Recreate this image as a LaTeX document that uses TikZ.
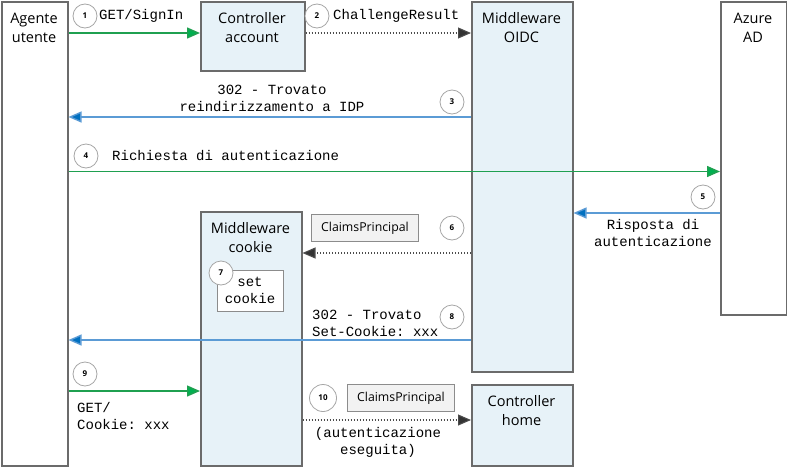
\documentclass[tikz,border=0pt]{standalone}
\usepackage{fontspec}
\setmainfont{Open Sans}
\setmonofont{Liberation Mono}
\usetikzlibrary{arrows.meta}
\definecolor{boxfill}{HTML}{E7F2F8}
\definecolor{boxline}{HTML}{6B6B6B}
\definecolor{grline}{HTML}{1FA050}
\definecolor{grhead}{HTML}{00B050}
\definecolor{blline}{HTML}{5B9BD5}
\definecolor{blhead}{HTML}{0070C0}
\definecolor{cpfill}{HTML}{F2F2F2}
\tikzset{
  actor/.style={draw=boxline, line width=1.5pt, fill=white, anchor=north west, inner sep=0pt},
  comp/.style={draw=boxline, line width=1.5pt, fill=boxfill, anchor=north west, inner sep=0pt},
  boxtext/.style={font=\fontsize{14.5}{19}\selectfont, align=center, inner sep=0pt},
  mono/.style={font=\ttfamily\fontsize{14}{17}\selectfont, inner sep=0pt},
  num/.style={circle, draw=black!35, line width=0.8pt, fill=white, minimum size=24pt, inner sep=0pt, font=\fontsize{8}{8}\selectfont\bfseries},
  cp/.style={draw=black!45, line width=1pt, fill=cpfill, anchor=north west, inner sep=0pt, font=\fontsize{12.3}{14}\selectfont},
  grarr/.style={draw=grline, line width=1.4pt, -{Triangle[length=13pt,width=11pt,fill=grhead]}},
  blarr/.style={draw=blline, line width=1.4pt, -{Triangle[length=13pt,width=11pt,fill=blhead]}},
  dotarr/.style={draw=black!70, line width=1.1pt, dash pattern=on 1pt off 2pt, -{Triangle[length=13pt,width=11pt,fill=black!80]}},
}
\begin{document}
\begin{tikzpicture}[x=1pt,y=-1pt]
\useasboundingbox (0,0) rectangle (787,466);
% lifeline boxes
\node[actor, minimum width=66pt, minimum height=464pt] (ua) at (1,1) {};
\node[comp, minimum width=104pt, minimum height=69pt] (ca) at (200,1) {};
\node[comp, minimum width=101pt, minimum height=370pt] (oidc) at (471,1) {};
\node[actor, minimum width=66pt, minimum height=313pt] (az) at (720,1) {};
\node[comp, minimum width=101pt, minimum height=254pt] (mc) at (200,211) {};
\node[comp, minimum width=101pt, minimum height=81pt] (ch) at (471,384) {};
% box labels
\node[boxtext] (uat) at (34,27.5) {Agente\\utente};
\node[boxtext] (cat) at (252,27.5) {Controller\\account};
\node[boxtext] (oidct) at (521.5,27.5) {Middleware\\OIDC};
\node[boxtext] (azt) at (753,27.5) {Azure\\AD};
\node[boxtext] (mct) at (250.5,237.5) {Middleware\\cookie};
\node[boxtext] (cht) at (521.5,410.5) {Controller\\home};
% small boxes
\node[cp, minimum width=107pt, minimum height=27pt] (cp6) at (311,214) {ClaimsPrincipal};
\node[cp, minimum width=107pt, minimum height=27pt] (cp10) at (347,384) {ClaimsPrincipal};
\node[draw=black!45, line width=1pt, fill=white, anchor=north west, minimum width=66pt, minimum height=41pt, inner sep=0pt] (sc) at (217,270) {};
\node[mono, align=center] (sct) at (250,290.5) {set\\cookie};
% arrows
\draw[grarr] (ua.east |- 0,33) -- (ca.west |- 0,33);
\draw[dotarr] (ca.east |- 0,33) -- (oidc.west |- 0,33);
\draw[blarr] (oidc.west |- 0,117) -- (ua.east |- 0,117);
\draw[grarr] (ua.east |- 0,171.5) -- (az.west |- 0,171.5);
\draw[blarr] (az.west |- 0,213) -- (oidc.east |- 0,213);
\draw[dotarr] (oidc.west |- 0,253) -- (mc.east |- 0,253);
\draw[blarr] (oidc.west |- 0,340) -- (ua.east |- 0,340);
\draw[grarr] (ua.east |- 0,391) -- (mc.west |- 0,391);
\draw[dotarr] (mc.east |- 0,420) -- (ch.west |- 0,420);
% arrow labels
\node[mono, anchor=west] (l1) at (99,16) {GET/SignIn};
\node[mono, anchor=west] (l2) at (333,16) {ChallengeResult};
\node[mono, align=center] (l3) at (272,98.5) {302 - Trovato\\reindirizzamento a IDP};
\node[mono, anchor=west] (l4) at (112,156) {Richiesta di autenticazione};
\node[mono, align=center] (l5) at (653,233) {Risposta di\\autenticazione};
\node[mono, align=left, anchor=west] (l8) at (312,323.5) {302 - Trovato\\Set-Cookie: xxx};
\node[mono, align=left, anchor=west] (l9) at (77,416) {GET/\\Cookie: xxx};
\node[mono, align=center] (l10) at (378,442.5) {(autenticazione\\eseguita)};
% step numbers
\node[num] (n1) at (85,16) {1};
\node[num] (n2) at (317,16) {2};
\node[num] (n3) at (452,102) {3};
\node[num] (n4) at (86,156) {4};
\node[num] (n5) at (703,197) {5};
\node[num] (n6) at (452,228) {6};
\node[num] (n7) at (221,273) {7};
\node[num] (n8) at (452,317) {8};
\node[num] (n9) at (85,374) {9};
\node[num, minimum size=27pt] (n10) at (323,398) {10};
\end{tikzpicture}
\end{document}
